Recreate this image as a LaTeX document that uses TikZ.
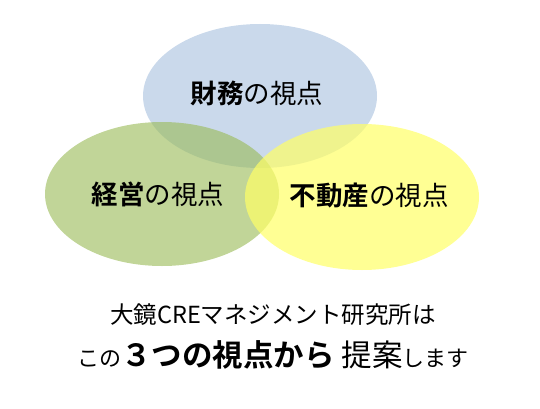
\documentclass[tikz,border=0pt]{standalone}
\usepackage{fontspec}
\setmainfont{Noto Sans CJK JP}[BoldFont={Noto Sans CJK JP Bold}]
\definecolor{zaimu}{RGB}{149,179,215}
\definecolor{keiei}{RGB}{155,187,89}
\definecolor{fudosan}{RGB}{255,255,102}

\begin{document}
\begin{tikzpicture}[x=1pt,y=-1pt,
    circ/.style={fill opacity=0.5},
    view/.style={font=\fontsize{26.5}{30}\selectfont, inner sep=0pt},
    msg/.style={inner sep=0pt}]
    \useasboundingbox (0,0) rectangle (540,409);
    \fill[zaimu,circ] (260,96) ellipse [x radius=117, y radius=72];
    \fill[keiei,circ,fill opacity=0.62] (162,194) ellipse [x radius=117, y radius=72];
    \fill[fudosan,circ,fill opacity=0.7] (362,197) ellipse [x radius=117, y radius=73];
    \node[view] (zaimu) at (257,93) {\textbf{財務}の視点};
    \node[view] (keiei) at (158,194) {\textbf{経営}の視点};
    \node[view] (fudosan) at (369,196) {\textbf{不動産}の視点};
    \node[msg, font=\fontsize{23.5}{28}\selectfont] (line1) at (273,315) {大鏡CREマネジメント研究所は};
    \node[msg, font=\fontsize{22}{26}\selectfont] (line2) at (273,355)
        {この{\fontsize{30.5}{34}\selectfont\textbf{３つの視点から}\ 提案}します};
\end{tikzpicture}
\end{document}
